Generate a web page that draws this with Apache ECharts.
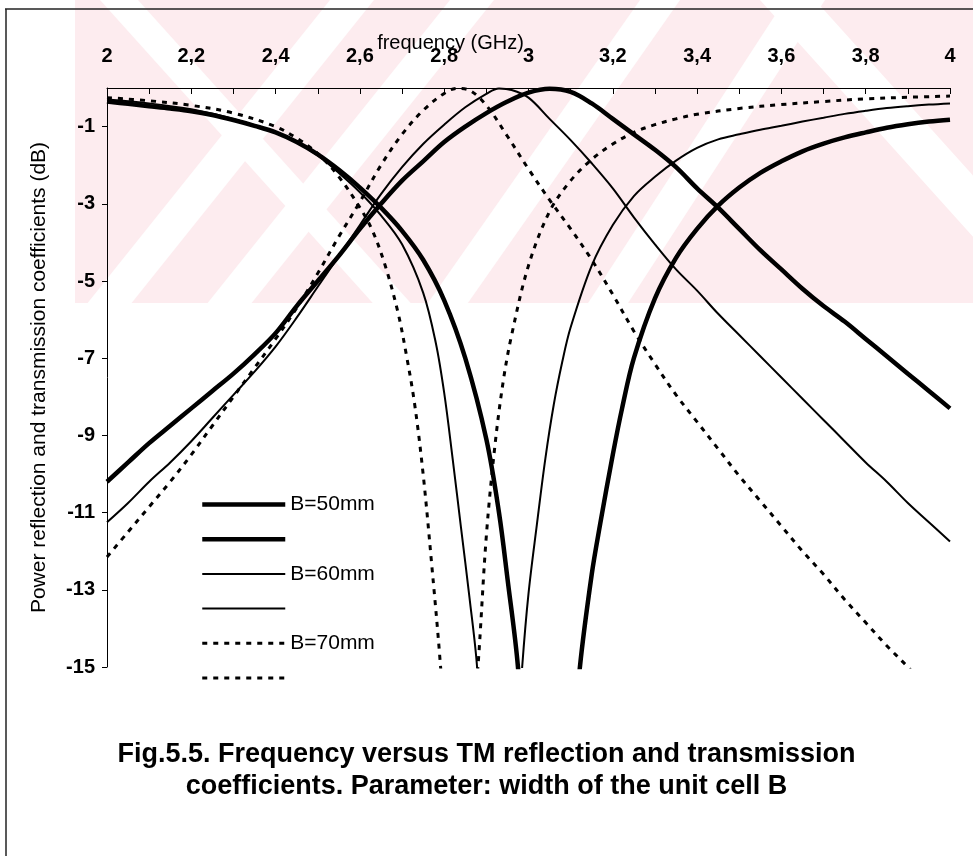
<!DOCTYPE html>
<html>
<head>
<meta charset="utf-8">
<script src="https://cdn.jsdelivr.net/npm/echarts@6/dist/echarts.min.js"></script>
<style>
html,body{margin:0;padding:0;background:#fff;}
#chart{width:973px;height:856px;}
</style>
</head>
<body>
<div id="chart"></div>
<script>
// ---- data: frequency (GHz), power coefficient (dB) ----
const r50 = [[2.00,-10.2],[2.05,-9.7],[2.10,-9.2],[2.15,-8.75],[2.20,-8.3],[2.25,-7.85],[2.30,-7.4],[2.35,-6.9],[2.40,-6.35],[2.45,-5.65],[2.50,-5.0],[2.55,-4.35],[2.60,-3.65],[2.65,-3.0],[2.70,-2.4],[2.75,-1.9],[2.80,-1.4],[2.85,-1.0],[2.90,-0.65],[2.95,-0.35],[3.00,-0.12],[3.05,-0.02],[3.10,-0.1],[3.15,-0.4],[3.20,-0.8],[3.25,-1.2],[3.30,-1.6],[3.35,-2.05],[3.40,-2.6],[3.45,-3.1],[3.50,-3.65],[3.55,-4.2],[3.60,-4.7],[3.65,-5.2],[3.70,-5.65],[3.75,-6.05],[3.80,-6.5],[3.85,-6.95],[3.90,-7.4],[3.95,-7.85],[4.00,-8.3]];
const t50 = [[2.00,-0.35],[2.05,-0.41],[2.10,-0.47],[2.15,-0.53],[2.20,-0.6],[2.25,-0.7],[2.30,-0.83],[2.35,-0.98],[2.40,-1.15],[2.45,-1.4],[2.50,-1.72],[2.55,-2.12],[2.60,-2.58],[2.65,-3.1],[2.70,-3.7],[2.75,-4.45],[2.80,-5.5],[2.85,-7.0],[2.90,-9.1],[2.93,-11.0],[2.95,-12.7],[2.975,-15],[3.00,-19],[3.048,-35],[3.10,-18],[3.122,-15],[3.15,-12.6],[3.17,-11.3],[3.20,-9.5],[3.222,-8.3],[3.25,-7.0],[3.30,-5.45],[3.35,-4.4],[3.40,-3.65],[3.45,-3.05],[3.50,-2.58],[3.55,-2.2],[3.60,-1.9],[3.65,-1.64],[3.70,-1.44],[3.75,-1.28],[3.80,-1.15],[3.85,-1.03],[3.90,-0.94],[3.95,-0.87],[4.00,-0.82]];
const r60 = [[2.00,-11.25],[2.05,-10.75],[2.10,-10.2],[2.15,-9.7],[2.20,-9.15],[2.25,-8.55],[2.30,-7.95],[2.35,-7.35],[2.40,-6.7],[2.45,-5.95],[2.50,-5.15],[2.55,-4.35],[2.60,-3.55],[2.65,-2.75],[2.70,-2.05],[2.75,-1.45],[2.80,-0.95],[2.85,-0.5],[2.90,-0.15],[2.93,-0.01],[2.96,-0.05],[3.00,-0.25],[3.05,-0.8],[3.10,-1.35],[3.15,-1.95],[3.20,-2.6],[3.25,-3.35],[3.30,-4.05],[3.35,-4.7],[3.40,-5.25],[3.45,-5.85],[3.50,-6.4],[3.55,-6.95],[3.60,-7.5],[3.65,-8.05],[3.70,-8.6],[3.75,-9.15],[3.80,-9.7],[3.85,-10.2],[3.90,-10.75],[3.95,-11.25],[4.00,-11.75]];
const t60 = [[2.00,-0.3],[2.10,-0.4],[2.20,-0.55],[2.30,-0.8],[2.40,-1.15],[2.45,-1.4],[2.50,-1.75],[2.55,-2.2],[2.60,-2.7],[2.65,-3.3],[2.70,-4.05],[2.75,-5.3],[2.78,-6.6],[2.80,-7.9],[2.82,-9.6],[2.84,-11.4],[2.86,-13.2],[2.878,-15],[2.90,-19],[2.93,-32],[2.96,-19],[2.985,-15],[3.00,-13.1],[3.02,-11.3],[3.04,-9.6],[3.06,-8.2],[3.08,-7.1],[3.10,-6.2],[3.15,-4.6],[3.20,-3.55],[3.25,-2.8],[3.30,-2.3],[3.35,-1.88],[3.40,-1.55],[3.45,-1.33],[3.50,-1.2],[3.55,-1.08],[3.60,-0.98],[3.65,-0.87],[3.70,-0.77],[3.75,-0.67],[3.80,-0.59],[3.85,-0.52],[3.90,-0.47],[3.95,-0.43],[4.00,-0.4]];
const r70 = [[2.00,-12.15],[2.05,-11.5],[2.10,-10.85],[2.15,-10.2],[2.20,-9.5],[2.25,-8.75],[2.30,-8.0],[2.35,-7.25],[2.40,-6.5],[2.45,-5.7],[2.50,-4.8],[2.55,-3.85],[2.60,-2.95],[2.65,-2.0],[2.70,-1.2],[2.75,-0.58],[2.80,-0.14],[2.83,-0.01],[2.86,-0.06],[2.90,-0.45],[2.95,-1.25],[3.00,-2.1],[3.05,-2.9],[3.10,-3.65],[3.15,-4.45],[3.20,-5.35],[3.25,-6.3],[3.30,-7.15],[3.35,-7.95],[3.40,-8.65],[3.45,-9.35],[3.50,-10.05],[3.55,-10.7],[3.60,-11.35],[3.65,-12.0],[3.70,-12.6],[3.75,-13.25],[3.80,-13.85],[3.85,-14.45],[3.90,-15.0],[3.95,-15.6],[4.00,-16.2]];
const t70 = [[2.00,-0.25],[2.10,-0.33],[2.20,-0.45],[2.30,-0.65],[2.40,-1.0],[2.45,-1.3],[2.50,-1.7],[2.55,-2.3],[2.60,-3.1],[2.63,-3.7],[2.66,-4.6],[2.69,-5.8],[2.71,-6.9],[2.73,-8.2],[2.75,-10.0],[2.77,-12.3],[2.79,-14.8],[2.80,-16.5],[2.83,-30],[2.86,-17.5],[2.88,-15],[2.90,-11.6],[2.92,-9.3],[2.94,-7.6],[2.96,-6.4],[3.00,-4.6],[3.05,-3.2],[3.10,-2.4],[3.15,-1.85],[3.20,-1.45],[3.25,-1.15],[3.30,-0.95],[3.35,-0.8],[3.40,-0.68],[3.50,-0.53],[3.60,-0.43],[3.70,-0.35],[3.80,-0.28],[3.90,-0.24],[4.00,-0.21]];

const legendLabels = ['B=50mm', '', 'B=60mm', '', 'B=70mm', ''];
const seriesNames = ['B=50mm R', 'B=50mm T', 'B=60mm R', 'B=60mm T', 'B=70mm R', 'B=70mm T'];
const xTicks = {min: 2, max: 4, step: 0.1};
const yTicks = {min: -15, max: 0, step: 2};
const captionLines = ['Fig.5.5. Frequency versus TM reflection and transmission', 'coefficients. Parameter: width of the unit cell B'];

const FONT = 'Liberation Sans, Arial, sans-serif';
const styles = [
  {width: 4.5, type: 'solid'}, {width: 4.5, type: 'solid'},
  {width: 2, type: 'solid'}, {width: 2, type: 'solid'},
  {width: 3, type: [5, 6]}, {width: 3, type: [5, 6]}
];
const dataSets = [r50, t50, r60, t60, r70, t70];

// faint scanned watermark band behind the chart (decoration only)
const WM_TOP = 0, WM_BOTTOM = 303, WM_PINK = '#fdecef';
function stripe(xTop, slope, w) {
  const h = WM_BOTTOM - WM_TOP;
  return {type: 'polygon', z: -10, silent: true,
    shape: {points: [[xTop, WM_TOP], [xTop + w, WM_TOP], [xTop + w + slope * h, WM_BOTTOM], [xTop + slope * h, WM_BOTTOM]]},
    style: {fill: '#ffffff'}};
}
const watermark = [
  {type: 'rect', z: -11, silent: true, shape: {x: 75, y: WM_TOP, width: 898, height: WM_BOTTOM - WM_TOP}, style: {fill: WM_PINK}},
  stripe(330, -0.8, 44), stripe(450, -0.8, 44), stripe(640, -0.7, 40), stripe(785, -0.65, 40),
  stripe(100, 0.9, 38), stripe(760, 0.9, 55)
];

const chart = echarts.init(document.getElementById('chart'), null, {renderer: 'canvas'});
chart.setOption({
  backgroundColor: '#ffffff',
  animation: false,
  grid: {left: 107, right: 23, top: 88, bottom: 189, containLabel: false},
  xAxis: {
    type: 'value', position: 'top',
    min: xTicks.min, max: xTicks.max, interval: xTicks.step,
    name: 'frequency (GHz)', nameLocation: 'middle', nameGap: 35, nameMoveOverlap: false,
    nameTextStyle: {fontFamily: FONT, fontSize: 20, color: '#000', padding: [0, 156, 0, 0]},
    axisLine: {show: true, lineStyle: {color: '#000', width: 1}},
    axisTick: {show: true, inside: true, length: 6, lineStyle: {color: '#000'}},
    axisLabel: {
      margin: 22, fontFamily: FONT, fontSize: 20, fontWeight: 'bold', color: '#000',
      formatter: v => { const k = Math.round(v * 10); if (k % 2 !== 0) return ''; return (k % 10 === 0) ? String(k / 10) : (k / 10).toFixed(1).replace('.', ','); }
    },
    splitLine: {show: false}
  },
  yAxis: {
    type: 'value', min: yTicks.min, max: yTicks.max, interval: yTicks.step,
    name: 'Power reflection and transmission coefficients (dB)', nameLocation: 'middle', nameGap: 57, nameMoveOverlap: false,
    nameTextStyle: {fontFamily: FONT, fontSize: 21, color: '#000'},
    axisLine: {show: true, onZero: false, lineStyle: {color: '#000', width: 1}},
    axisTick: {show: true, length: 5, lineStyle: {color: '#000'}},
    axisLabel: {margin: 12, fontFamily: FONT, fontSize: 20, fontWeight: 'bold', color: '#000', showMaxLabel: false},
    splitLine: {show: false}
  },
  legend: {
    orient: 'vertical', left: 195, top: 489,
    itemWidth: 83, itemHeight: 14, itemGap: 18.6,
    data: seriesNames,
    formatter: name => legendLabels[seriesNames.indexOf(name)],
    textStyle: {fontFamily: FONT, fontSize: 21, color: '#000', lineHeight: 14},
    itemStyle: {opacity: 0},
    lineStyle: {width: 'inherit', type: 'inherit'},
    selectedMode: false
  },
  title: {
    text: captionLines.join('\n'),
    left: 'center', top: 734,
    textStyle: {fontFamily: FONT, fontSize: 27, fontWeight: 'bold', color: '#000', lineHeight: 32}
  },
  graphic: watermark.concat([
    {type: 'line', shape: {x1: 5, y1: 9, x2: 973, y2: 9}, style: {stroke: '#222', lineWidth: 1.5}},
    {type: 'line', shape: {x1: 6, y1: 9, x2: 6, y2: 856}, style: {stroke: '#222', lineWidth: 1.5}}
  ]),
  series: dataSets.map((d, i) => ({
    name: seriesNames[i], type: 'line', data: d,
    symbol: 'none', smooth: 0.35,
    lineStyle: {color: '#000', width: styles[i].width, type: styles[i].type},
    itemStyle: {color: '#000'},
    clip: true
  }))
});
</script>
</body>
</html>
